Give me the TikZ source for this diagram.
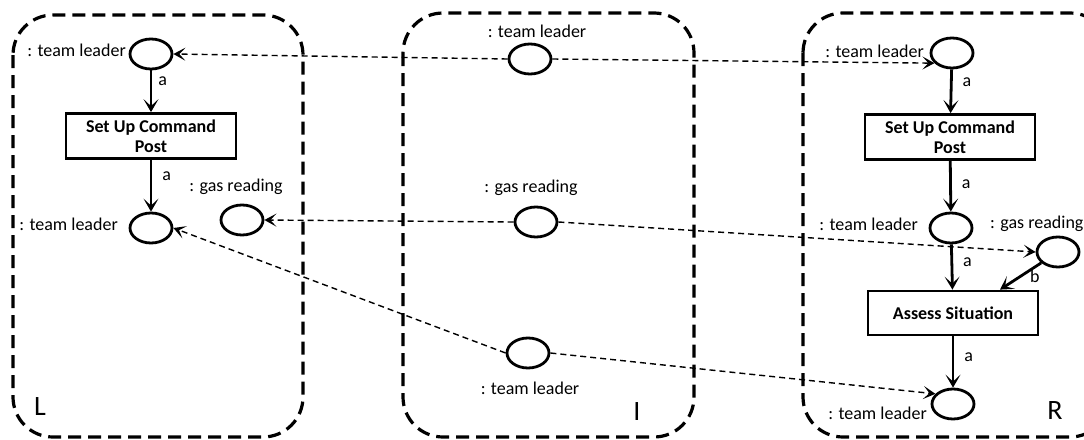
\documentclass[tikz,border=0pt]{standalone}
\usepackage{fontspec}
\setmainfont{Carlito}
\usetikzlibrary{arrows.meta,shapes.geometric}

\begin{document}
\begin{tikzpicture}[x=1pt,y=-1pt,
		region/.style={line width=3.2pt,dash pattern=on 13pt off 7pt,rounded corners=40pt},
		place/.style={ellipse,draw,line width=2.8pt,minimum width=42pt,minimum height=30pt,inner sep=0pt},
		trans/.style={rectangle,draw,line width=2.8pt,minimum width=170pt,minimum height=45pt,align=center,font=\fontsize{18}{20}\selectfont\bfseries},
		lbl/.style={font=\fontsize{18}{20}\selectfont,inner sep=0pt},
		side/.style={font=\fontsize{28}{30}\selectfont,inner sep=0pt},
		arc/.style={line width=2.8pt,-{Stealth[length=13pt,width=15pt,inset=7pt]}},
		link/.style={line width=1.4pt,dash pattern=on 6pt off 4pt,-{Stealth[length=12pt,width=13pt,inset=6pt]}}]
		\useasboundingbox (0,0) rectangle (1084,439);
		\clip (0,0) rectangle (1084,439);
		
		% the three graphs
		\draw[region] (13,15) rectangle (303,437);
		\draw[region] (403,13) rectangle (694,437);
		\draw[region] (803,13) rectangle (1110,437);
		\node[side] (Lname) at (40,407) {L};
		\node[side] (Iname) at (637,412) {I};
		\node[side] (Rname) at (1055,411) {R};
		
		% left
		\node[place] (L1) at (151,54) {};
		\node[lbl,anchor=east] (L1lbl) at (126,50) {: team leader};
		\node[trans] (LT) at (151,136) {Set Up Command\\Post};
		\node[place] (L2) at (151,228) {};
		\node[lbl,anchor=east] (L2lbl) at (118,224) {: team leader};
		\node[place] (Lg) at (242,220) {};
		\node[lbl] (Lglbl) at (236,187) {: gas reading};
		\draw[arc] (L1) -- (LT) node[lbl,pos=0.25,anchor=west,xshift=6pt]{a};
		\draw[arc] (LT) -- (L2) node[lbl,pos=0.32,anchor=west,xshift=10pt]{a};
		
		% interface
		\node[place] (I1) at (530,59) {};
		\node[lbl] (I1lbl) at (537,31) {: team leader};
		\node[place] (Ig) at (536,222) {};
		\node[lbl] (Iglbl) at (531,188) {: gas reading};
		\node[place] (I2) at (528,353) {};
		\node[lbl] (I2lbl) at (530,388) {: team leader};
		
		% right
		\node[place] (R1) at (952,53) {};
		\node[lbl,anchor=east] (R1lbl) at (924,51) {: team leader};
		\node[trans] (RT) at (950,137) {Set Up Command\\Post};
		\node[place] (R2) at (951,228) {};
		\node[lbl,anchor=east] (R2lbl) at (918,224) {: team leader};
		\node[place] (Rg) at (1058,252) {};
		\node[lbl,anchor=west] (Rglbl) at (990,224) {: gas reading};
		\node[trans,minimum height=44pt] (RA) at (953,313) {Assess Situation};
		\node[place] (R3) at (953,404) {};
		\node[lbl,anchor=east] (R3lbl) at (927,413) {: team leader};
		\draw[arc] (R1) -- (RT) node[lbl,pos=0.3,anchor=west,xshift=10pt]{a};
		\draw[arc] (RT) -- (R2) node[lbl,pos=0.45,anchor=west,xshift=10pt]{a};
		\draw[arc] (R2) -- (RA) node[lbl,pos=0.4,anchor=west,xshift=10pt]{a};
		\draw[arc] (Rg) -- ([xshift=47pt]RA.north) node[lbl,pos=0.5,anchor=west,xshift=8pt]{b};
		\draw[arc] (RA) -- (R3) node[lbl,pos=0.4,anchor=west,xshift=10pt]{a};
		
		% mappings from the interface
		\draw[link] (I1.west) -- (L1.east);
		\draw[link] (I1.east) -- (R1.210);
		\draw[link] (Ig.west) -- (Lg.east);
		\draw[link] (Ig.east) -- (Rg.west);
		\draw[link] (I2.west) -- (L2.east);
		\draw[link] (I2.east) -- (R3.150);
	\end{tikzpicture}
\end{document}
